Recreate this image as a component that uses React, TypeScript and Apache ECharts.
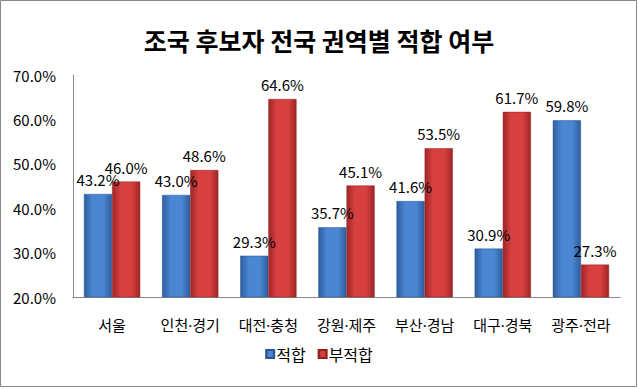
import React, { useEffect, useRef } from "react";
import * as echarts from "echarts";

const categories = ["서울", "인천·경기", "대전·충청", "강원·제주", "부산·경남", "대구·경북", "광주·전라"];
const fitValues = [43.2, 43.0, 29.3, 35.7, 41.6, 30.9, 59.8];
const unfitValues = [46.0, 48.6, 64.6, 45.1, 53.5, 61.7, 27.3];
const seriesNames = ["적합", "부적합"];
const titleText = "조국 후보자 전국 권역별 적합 여부";

const FONT = "'Noto Sans CJK KR', 'Noto Sans', sans-serif";
const CAT_FONT = "'Noto Sans', 'Noto Sans CJK KR', sans-serif";

function grad(edge: string, mid: string) {
  return new echarts.graphic.LinearGradient(0, 0, 1, 0, [
    { offset: 0, color: edge },
    { offset: 0.3, color: mid },
    { offset: 0.7, color: mid },
    { offset: 1, color: edge },
  ]);
}

export default function App() {
  const ref = useRef<HTMLDivElement>(null);
  useEffect(() => {
    if (!ref.current) return;
    const chart = echarts.init(ref.current, undefined, { renderer: "svg" });
    const labelCfg = {
      show: true,
      position: "top" as const,
      distance: 7,
      color: "#000",
      fontSize: 15,
      fontFamily: FONT,
      formatter: (p: any) => Number(p.value).toFixed(1) + "%",
    };
    chart.setOption({
      animation: false,
      backgroundColor: "#fff",
      title: {
        text: titleText,
        left: "center",
        top: 22,
        textStyle: { fontSize: 25, fontWeight: "bold", color: "#000", fontFamily: FONT },
      },
      graphic: [
        {
          type: "rect",
          shape: { x: 0.5, y: 0.5, width: 636, height: 386 },
          style: { fill: "none", stroke: "#888", lineWidth: 1 },
          silent: true,
        },
      ],
      legend: {
        data: seriesNames,
        bottom: 22,
        left: "center",
        itemWidth: 8,
        itemHeight: 8,
        itemGap: 12,
        icon: "rect",
        textStyle: { fontSize: 16, color: "#000", fontFamily: FONT, padding: [0, 0, 0, -3] },
      },
      grid: { left: 73, right: 18, top: 75, bottom: 92, containLabel: false },
      xAxis: {
        type: "category",
        data: categories,
        axisLine: { lineStyle: { color: "#888" } },
        axisTick: { show: false },
        axisLabel: { interval: 0, fontSize: 15, color: "#000", fontFamily: CAT_FONT, margin: 20 },
      },
      yAxis: {
        type: "value",
        min: 20,
        max: 70,
        interval: 10,
        axisLine: { show: true, lineStyle: { color: "#888" } },
        axisTick: { show: false },
        splitLine: { show: false },
        axisLabel: {
          fontSize: 15,
          color: "#000",
          fontFamily: FONT,
          margin: 17,
          formatter: (v: number) => v.toFixed(1) + "%",
        },
      },
      series: [
        {
          name: seriesNames[0],
          type: "bar",
          data: fitValues,
          barGap: "0%",
          barCategoryGap: "28%",
          itemStyle: { color: grad("#2e5e9e", "#4a86d2"), borderColor: "#2a5590", borderWidth: 0.5 },
          label: labelCfg,
        },
        {
          name: seriesNames[1],
          type: "bar",
          data: unfitValues,
          itemStyle: { color: grad("#a02626", "#d84040"), borderColor: "#902020", borderWidth: 0.5 },
          label: labelCfg,
        },
      ],
    });
    return () => chart.dispose();
  }, []);
  return <div ref={ref} style={{ position: "absolute", left: 0, top: 0, width: 638, height: 389 }} />;
}
